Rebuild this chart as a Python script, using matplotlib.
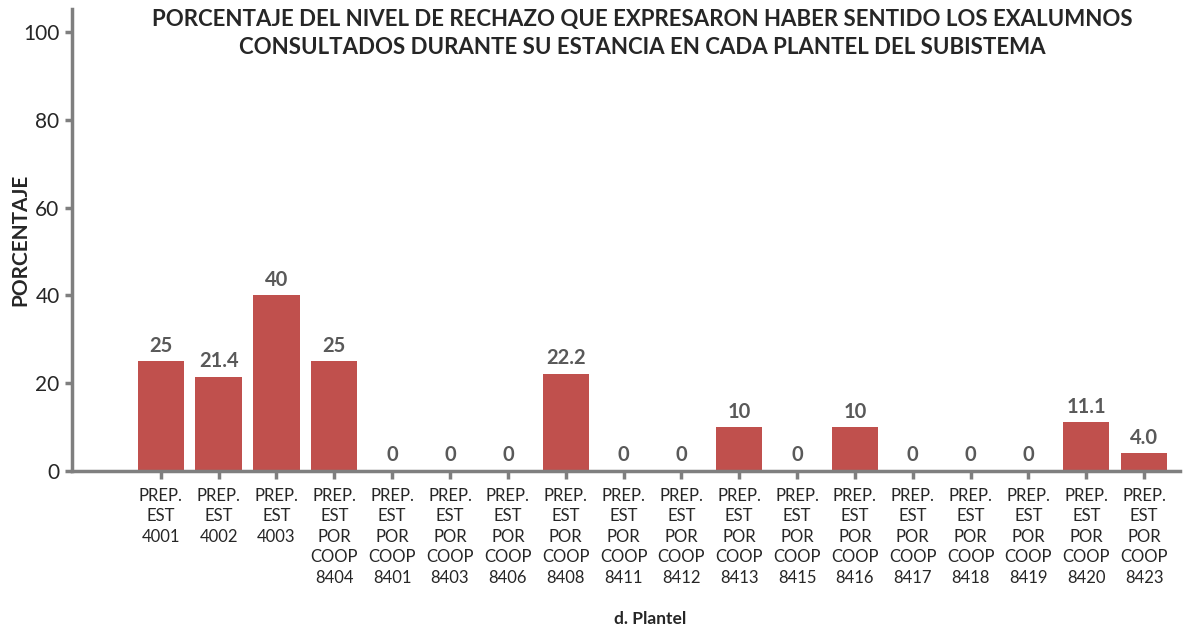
import matplotlib
matplotlib.use("Agg")
import matplotlib.pyplot as plt

plt.rcParams['font.family'] = ['Lato', 'DejaVu Sans']

planteles = [
    "PREP.\nEST\n4001", "PREP.\nEST\n4002", "PREP.\nEST\n4003",
    "PREP.\nEST\nPOR\nCOOP\n8404", "PREP.\nEST\nPOR\nCOOP\n8401",
    "PREP.\nEST\nPOR\nCOOP\n8403", "PREP.\nEST\nPOR\nCOOP\n8406",
    "PREP.\nEST\nPOR\nCOOP\n8408", "PREP.\nEST\nPOR\nCOOP\n8411",
    "PREP.\nEST\nPOR\nCOOP\n8412", "PREP.\nEST\nPOR\nCOOP\n8413",
    "PREP.\nEST\nPOR\nCOOP\n8415", "PREP.\nEST\nPOR\nCOOP\n8416",
    "PREP.\nEST\nPOR\nCOOP\n8417", "PREP.\nEST\nPOR\nCOOP\n8418",
    "PREP.\nEST\nPOR\nCOOP\n8419", "PREP.\nEST\nPOR\nCOOP\n8420",
    "PREP.\nEST\nPOR\nCOOP\n8423",
]
porcentaje = [25, 21.4, 40, 25, 0, 0, 0, 22.2, 0, 0, 10, 0, 10, 0, 0, 0, 11.1, 4.0]
etiquetas = ["25", "21.4", "40", "25", "0", "0", "0", "22.2", "0", "0",
             "10", "0", "10", "0", "0", "0", "11.1", "4.0"]

titulo = ("PORCENTAJE DEL NIVEL DE RECHAZO QUE EXPRESARON HABER SENTIDO LOS EXALUMNOS\n"
          "CONSULTADOS DURANTE SU ESTANCIA EN CADA PLANTEL DEL SUBISTEMA")

gris = '#7f7f7f'
fig = plt.figure(figsize=(11.97, 6.27), dpi=100)
ax = fig.add_axes([0.0602, 0.2488, 0.9256, 0.7368])

x = list(range(len(porcentaje)))
ax.bar(x, porcentaje, width=0.8, color='#C0504D', zorder=2)
for xi, v, t in zip(x, porcentaje, etiquetas):
    ax.annotate(t, (xi, v), xytext=(0, 4), textcoords='offset points',
                ha='center', va='bottom', fontsize=14.5, fontweight='bold',
                color='#595959')

ax.set_xlim(-1.533, 17.62)
ax.set_ylim(0, 105.2)
ax.set_yticks([0, 20, 40, 60, 80, 100])
ax.set_xticks(x)
ax.set_xticklabels(planteles, fontsize=12, color='#262626', linespacing=1.35)
ax.tick_params(axis='y', labelsize=15, colors='#262626', length=5, width=2.5,
               color=gris, pad=4)
ax.tick_params(axis='x', length=6, width=2.5, color=gris, pad=6)

for s in ['top', 'right']:
    ax.spines[s].set_visible(False)
for s in ['left', 'bottom']:
    ax.spines[s].set_color(gris)
    ax.spines[s].set_linewidth(2.5)

ax.set_ylabel('PORCENTAJE', fontsize=15, fontweight='bold', color='#262626')
ax.yaxis.set_label_coords(-0.038, 0.5)
fig.text(0.543, 0.0128, 'd. Plantel', fontsize=12.5, fontweight='bold',
         ha='center', va='center', color='#262626')
fig.text(0.537, 0.985, titulo, fontsize=16, fontweight='bold', ha='center',
         va='top', color='#262626', linespacing=1.4)

fig.savefig('out.png', dpi=100, facecolor='white')
